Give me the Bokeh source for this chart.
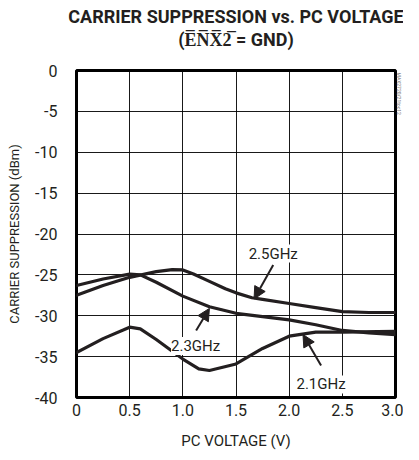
import numpy as np
from bokeh.plotting import figure
from bokeh.models import Title, FixedTicker, Arrow, NormalHead, Range1d
from bokeh.embed import file_html
from bokeh.resources import INLINE
from bokeh.core.properties import value

# ---- data ----
volt_25 = [0, 0.25, 0.5, 0.75, 0.9, 1.0, 1.1, 1.25, 1.4, 1.5, 1.65, 1.75, 2.0, 2.25, 2.5, 2.75, 3.0]
cs_25 = [-27.5, -26.3, -25.3, -24.6, -24.35, -24.4, -24.9, -25.8, -26.7, -27.2, -27.8, -28.0, -28.5, -29.0, -29.5, -29.6, -29.6]

volt_23 = [0, 0.25, 0.5, 0.6, 0.75, 1.0, 1.25, 1.5, 1.75, 2.0, 2.25, 2.5, 2.75, 3.0]
cs_23 = [-26.3, -25.5, -24.9, -25.0, -25.9, -27.6, -28.9, -29.7, -30.1, -30.5, -31.1, -31.8, -32.1, -32.3]

volt_21 = [0, 0.25, 0.5, 0.6, 0.75, 1.0, 1.15, 1.25, 1.5, 1.75, 2.0, 2.25, 2.5, 3.0]
cs_21 = [-34.5, -32.8, -31.4, -31.6, -32.9, -35.3, -36.5, -36.7, -35.9, -34.0, -32.5, -32.0, -32.0, -31.9]

x_ticks = [0, 0.5, 1.0, 1.5, 2.0, 2.5, 3.0]
x_tick_labels = ["0", "0.5", "1.0", "1.5", "2.0", "2.5", "3.0"]
y_ticks = [0, -5, -10, -15, -20, -25, -30, -35, -40]
y_tick_labels = ["0", "-5", "-10", "-15", "-20", "-25", "-30", "-35", "-40"]

label_text = ["2.5GHz", "2.3GHz", "2.1GHz"]
label_x = [1.85, 1.12, 2.3]
label_y = [-22.4, -33.7, -38.4]
arrow_x0 = [1.85, 1.125, 2.3]
arrow_y0 = [-23.8, -31.8, -36.1]
arrow_x1 = [1.67, 1.25, 2.13]
arrow_y1 = [-27.95, -29.1, -32.3]

title_lines = ["CARRIER SUPPRESSION vs. PC VOLTAGE", "(E\u0305N\u0305X\u03052\u0305 = GND)"]
watermark = "MAX2720/21toc12"

FONT = "Roboto"
INK = "#231f20"

p = figure(width=403, height=456, output_backend="svg", toolbar_location=None,
           x_range=Range1d(0, 3.0), y_range=Range1d(-40, 0),
           min_border_left=76, min_border_right=0, min_border_bottom=59, min_border_top=70)

# spacer between frame and title lines
p.add_layout(Title(text=" ", text_font_size="2px", standoff=17), "above")
p.add_layout(Title(text=title_lines[1], align="center", text_font=FONT,
                   text_font_size="18px", text_font_style="bold", text_color=INK,
                   standoff=0, offset=0), "above")
p.add_layout(Title(text=title_lines[0], align="center", text_font=FONT,
                   text_font_size="18px", text_font_style="bold", text_color=INK,
                   standoff=0, offset=0), "above")
p.add_layout(Title(text=watermark, align="left", text_font=FONT, text_font_size="5px",
                   text_font_style="normal", text_color="#777777", standoff=0, offset=2), "right")

p.outline_line_color = "black"
p.outline_line_width = 3
p.background_fill_color = "white"
p.border_fill_color = "white"

for ax in (p.xaxis[0], p.yaxis[0]):
    ax.axis_line_color = None
    ax.major_tick_line_color = None
    ax.minor_tick_line_color = None
    ax.major_tick_out = 0
    ax.major_tick_in = 0
    ax.major_label_text_font = FONT
    ax.major_label_text_font_size = "16px"
    ax.major_label_text_color = INK
    ax.axis_label_text_font = FONT
    ax.axis_label_text_font_style = "normal"
    ax.axis_label_text_color = INK

p.xaxis.ticker = FixedTicker(ticks=x_ticks)
p.xaxis.major_label_overrides = {t: l for t, l in zip(x_ticks, x_tick_labels)}
p.yaxis.ticker = FixedTicker(ticks=y_ticks)
p.yaxis.major_label_overrides = {t: l for t, l in zip(y_ticks, y_tick_labels)}
p.xaxis.axis_label = "PC VOLTAGE (V)"
p.xaxis.axis_label_text_font_size = "15px"
p.xaxis.major_label_standoff = 6
p.xaxis.axis_label_standoff = 13
p.yaxis.axis_label = "CARRIER SUPPRESSION (dBm)"
p.yaxis.axis_label_text_font_size = "13px"
p.yaxis.major_label_standoff = 19
p.yaxis.axis_label_standoff = 10

p.xgrid.grid_line_color = "black"
p.ygrid.grid_line_color = "black"
p.xgrid.grid_line_width = 1
p.ygrid.grid_line_width = 1
p.xgrid.grid_line_alpha = 0.9
p.ygrid.grid_line_alpha = 0.9

for vx, vy in ((volt_25, cs_25), (volt_23, cs_23), (volt_21, cs_21)):
    p.line(vx, vy, line_color=INK, line_width=3.2, line_join="round", line_cap="round")

p.text(x=label_x, y=label_y, text=label_text, text_font=value(FONT), text_font_size="15px",
       text_color=INK, text_align="center", text_baseline="middle",
       background_fill_color="white")

for i in range(len(label_text)):
    p.add_layout(Arrow(x_start=arrow_x0[i], y_start=arrow_y0[i], x_end=arrow_x1[i], y_end=arrow_y1[i],
                       line_color=INK, line_width=2,
                       end=NormalHead(size=12, fill_color=INK, line_color=INK)))

open("out.html", "w").write(file_html(p, INLINE))
